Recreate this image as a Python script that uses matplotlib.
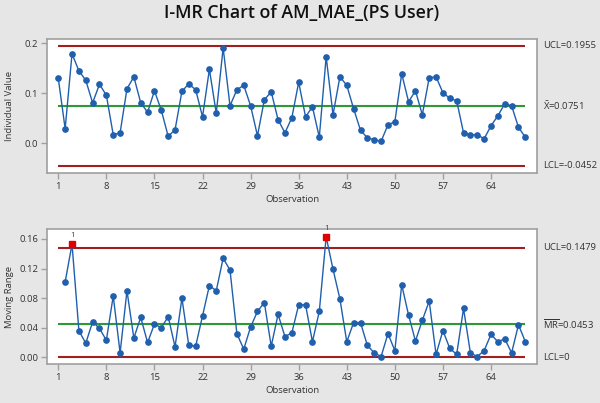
import matplotlib
matplotlib.use("Agg")
import matplotlib.pyplot as plt
import matplotlib.transforms as mtransforms
import numpy as np

plt.rcParams['font.family'] = ['Open Sans', 'DejaVu Sans']
plt.rcParams['mathtext.fontset'] = 'custom'
plt.rcParams['mathtext.rm'] = 'Open Sans'

# individual values, observations 1..69
ind = [0.130, 0.029, 0.179, 0.145, 0.126, 0.081, 0.118, 0.096, 0.017, 0.021,
       0.109, 0.133, 0.081, 0.062, 0.105, 0.066, 0.014, 0.027, 0.104, 0.119,
       0.107, 0.053, 0.148, 0.060, 0.191, 0.075, 0.107, 0.116, 0.075, 0.015,
       0.087, 0.103, 0.047, 0.021, 0.051, 0.122, 0.053, 0.073, 0.012, 0.173,
       0.057, 0.133, 0.116, 0.069, 0.026, 0.011, 0.007, 0.004, 0.037, 0.043,
       0.139, 0.083, 0.105, 0.057, 0.131, 0.133, 0.101, 0.090, 0.085, 0.021,
       0.017, 0.017, 0.009, 0.035, 0.055, 0.079, 0.075, 0.032, 0.012]

# moving ranges, observations 2..69
mr = [0.102, 0.153, 0.036, 0.019, 0.048, 0.039, 0.023, 0.083, 0.006, 0.090,
      0.026, 0.054, 0.020, 0.045, 0.040, 0.055, 0.014, 0.080, 0.016, 0.015,
      0.056, 0.097, 0.090, 0.134, 0.118, 0.032, 0.011, 0.041, 0.062, 0.074,
      0.015, 0.058, 0.028, 0.033, 0.071, 0.071, 0.021, 0.062, 0.163, 0.119,
      0.079, 0.021, 0.047, 0.047, 0.016, 0.006, 0.001, 0.032, 0.009, 0.098,
      0.057, 0.022, 0.050, 0.076, 0.004, 0.036, 0.012, 0.004, 0.066, 0.006,
      0.001, 0.009, 0.031, 0.021, 0.025, 0.006, 0.044, 0.021]

i_ucl, i_cl, i_lcl = 0.1955, 0.0751, -0.0452
mr_ucl, mr_cl, mr_lcl = 0.1479, 0.0453, 0.0

xticks = [1, 8, 15, 22, 29, 36, 43, 50, 57, 64]

BG = '#e6e6e6'
RED = '#a31f1f'
GREEN = '#2e9a35'
BLUE = '#1f5fad'
FRAME = '#a0a0a0'
TXT = '#333333'
FS = 6.8

fig = plt.figure(figsize=(6, 4.03), dpi=100, facecolor=BG)
fig.text(0.502, 0.967, 'I-MR Chart of AM_MAE_(PS User)', ha='center', va='center',
         fontsize=12.8, fontweight='semibold', color='#111111')

ax1 = fig.add_axes([0.0778, 0.570, 0.8177, 0.3325])
ax2 = fig.add_axes([0.0778, 0.096, 0.8177, 0.3365])

obs = np.arange(1, len(ind) + 1)
obs_mr = np.arange(2, len(ind) + 1)


def style(ax):
    ax.set_facecolor('white')
    for s in ax.spines.values():
        s.set_color(FRAME)
        s.set_linewidth(1.2)
    ax.tick_params(direction='out', length=4, width=1, color=FRAME,
                   labelsize=FS, labelcolor=TXT, pad=2)
    ax.set_xticks(xticks)
    ax.set_xlim(-0.69, 70.74)
    ax.set_xlabel('Observation', fontsize=FS, color=TXT, labelpad=3)


def limits(ax, vals, labels):
    tr = mtransforms.blended_transform_factory(ax.transAxes, ax.transData)
    for v, c, lab in zip(vals, [RED, GREEN, RED], labels):
        ax.hlines(v, 1, len(ind), color=c, lw=1.5, zorder=2)
        ax.text(1.0116, v, lab, transform=tr, ha='left', va='center',
                fontsize=FS, color=TXT, clip_on=False)


# individual chart
style(ax1)
limits(ax1, [i_ucl, i_cl, i_lcl],
       ['UCL=0.1955', r'$\bar{\mathrm{X}}$=0.0751', 'LCL=-0.0452'])
ax1.plot(obs, ind, color=BLUE, lw=1, marker='o', ms=3.8, zorder=3)
ax1.set_ylim(-0.060, 0.208)
ax1.set_yticks([0.0, 0.1, 0.2])
ax1.set_yticklabels(['0.0', '0.1', '0.2'])
ax1.set_ylabel('Individual Value', fontsize=FS, color=TXT)
ax1.yaxis.set_label_coords(-0.066, 0.5)

# moving range chart
style(ax2)
limits(ax2, [mr_ucl, mr_cl, mr_lcl],
       ['UCL=0.1479', r'$\overline{\mathrm{MR}}$=0.0453', 'LCL=0'])
ax2.plot(obs_mr, mr, color=BLUE, lw=1, marker='o', ms=3.8, zorder=3)
out = [(o, v) for o, v in zip(obs_mr, mr) if v > mr_ucl]
for o, v in out:
    ax2.plot(o, v, marker='s', ms=4.8, color='#e00000', zorder=4)
    ax2.annotate('1', (o, v), xytext=(0, 3.5), textcoords='offset points',
                 ha='center', va='bottom', fontsize=5.5, color=TXT)
ax2.set_ylim(-0.0095, 0.1739)
ax2.set_yticks([0.0, 0.04, 0.08, 0.12, 0.16])
ax2.set_yticklabels(['0.00', '0.04', '0.08', '0.12', '0.16'])
ax2.set_ylabel('Moving Range', fontsize=FS, color=TXT)
ax2.yaxis.set_label_coords(-0.066, 0.5)

fig.savefig('out.png', dpi=100, facecolor=BG)
